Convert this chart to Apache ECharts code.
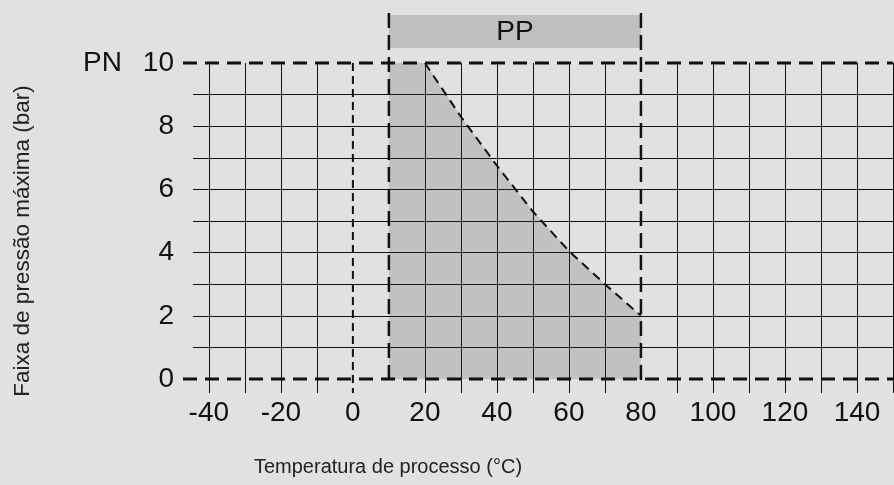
<!DOCTYPE html>
<html>
<head>
<meta charset="utf-8">
<script src="https://cdn.jsdelivr.net/npm/echarts@6/dist/echarts.min.js"></script>
<style>html,body{margin:0;padding:0;background:#e0e1e1;}#c{width:894px;height:485px;}</style>
</head>
<body>
<div id="c"></div>
<script>
// ---- data ----
const xGridTicks = [-40, -30, -20, -10, 20, 30, 40, 50, 60, 70, 90, 100, 110, 120, 130, 140, 150];
const xTickLabels = [-40, -20, 0, 20, 40, 60, 80, 100, 120, 140];
const yGridTicks = [1, 2, 3, 4, 5, 6, 7, 8, 9];
const yTickLabels = [0, 2, 4, 6, 8, 10];
const pressureLimits = [0, 10];      // lower limit and PN 10 upper limit
const zeroTemp = [0];
const ppTempRange = [10, 80];
const curveTemp = [20, 30, 40, 50, 60, 70, 80];
const curvePress = [10, 8.3, 6.75, 5.3, 4.05, 3.0, 2.0];
const materialName = 'PP';
const xTitle = 'Temperatura de processo (°C)';
const yTitle = 'Faixa de pressão máxima (bar)';

// ---- layout / style ----
const X_MIN = -44.4, X_MAX = 150, Y_MIN = 0, Y_MAX = 10;
const FONT = "'Liberation Sans', Arial, Helvetica, sans-serif";
const INK = '#111';
const SHADE = '#bdbfc1';

const curveData = curveTemp.map((t, i) => [t, curvePress[i]]);
const areaData = [[ppTempRange[0], pressureLimits[1]]].concat(curveData);

const chart = echarts.init(document.getElementById('c'), null, { renderer: 'canvas' });
chart.setOption({
  backgroundColor: '#e0e1e1',
  animation: false,
  grid: { left: 193, right: 1, top: 63, bottom: 106, containLabel: false },
  xAxis: {
    type: 'value', min: X_MIN, max: X_MAX,
    axisLine: { show: false },
    axisTick: { show: true, customValues: xGridTicks, length: 14, inside: false, lineStyle: { color: INK, width: 1 } },
    axisLabel: { customValues: xTickLabels, fontSize: 28, color: INK, fontFamily: FONT, margin: 20 },
    splitLine: { show: true, lineStyle: { color: INK, width: 1 } }
  },
  yAxis: {
    type: 'value', min: Y_MIN, max: Y_MAX,
    axisLine: { show: false },
    axisTick: { show: false, customValues: yGridTicks },
    axisLabel: {
      customValues: yTickLabels, fontSize: 28, color: INK, fontFamily: FONT, margin: 19,
      formatter: v => (v === pressureLimits[1] ? '{pn|PN}' + v : String(v)),
      rich: { pn: { fontSize: 28, color: INK, fontFamily: FONT, padding: [0, 21, 0, 0] } }
    },
    splitLine: { show: true, lineStyle: { color: INK, width: 1 } }
  },
  graphic: [
    { type: 'text', x: 23, y: 241, rotation: Math.PI / 2,
      style: { text: yTitle, fontSize: 22.5, fontFamily: FONT, fill: '#222', align: 'center', verticalAlign: 'middle' } },
    { type: 'text', x: 388, y: 467,
      style: { text: xTitle, fontSize: 20, fontFamily: FONT, fill: '#222', align: 'center', verticalAlign: 'middle' } }
  ],
  series: [
    { // shaded allowed region
      type: 'line', data: areaData, showSymbol: false, z: 1,
      lineStyle: { width: 0 },
      areaStyle: { color: 'rgb(58,64,72)', opacity: 0.2, origin: 'start' },
      silent: true
    },
    { // dashed limit curve
      type: 'line', data: curveData, showSymbol: false, z: 5,
      lineStyle: { color: INK, width: 2, type: [9, 6] },
      silent: true
    },
    { // PP band on top
      type: 'custom', z: 4, silent: true,
      data: [[ppTempRange[0], ppTempRange[1]]],
      renderItem: (params, api) => {
        const a = api.coord([api.value(0), Y_MAX]);
        const b = api.coord([api.value(1), Y_MAX]);
        const top = a[1] - 48, h = 33;
        return {
          type: 'group',
          children: [
            { type: 'rect', shape: { x: a[0], y: top, width: b[0] - a[0], height: h }, style: { fill: SHADE } },
            { type: 'text', x: (a[0] + b[0]) / 2, y: top + h / 2 + 1,
              style: { text: materialName, fontSize: 28, fontFamily: FONT, fill: INK, align: 'center', verticalAlign: 'middle' } }
          ]
        };
      }
    },
    { // horizontal thick dashed limits (0 and PN 10)
      type: 'custom', z: 6, silent: true,
      data: pressureLimits.map(v => [X_MAX, v]),
      renderItem: (params, api) => {
        const y = api.value(1);
        const l = api.coord([X_MIN, y]);
        const r = api.coord([X_MAX, y]);
        return { type: 'line', shape: { x1: l[0] - 10, y1: l[1], x2: r[0], y2: r[1] },
          style: { stroke: INK, lineWidth: 3, lineDash: [14, 8] } };
      }
    },
    { // vertical thick dashed PP range limits
      type: 'custom', z: 6, silent: true,
      data: ppTempRange.map(v => [v, Y_MIN]),
      renderItem: (params, api) => {
        const x = api.value(0);
        const t = api.coord([x, Y_MAX]);
        const b = api.coord([x, Y_MIN]);
        return { type: 'line', shape: { x1: t[0], y1: t[1] - 50, x2: b[0], y2: b[1] + 6 },
          style: { stroke: INK, lineWidth: 2.5, lineDash: [15, 7] } };
      }
    },
    { // thin dashed 0 °C line
      type: 'custom', z: 6, silent: true,
      data: zeroTemp.map(v => [v, Y_MIN]),
      renderItem: (params, api) => {
        const x = api.value(0);
        const t = api.coord([x, Y_MAX]);
        const b = api.coord([x, Y_MIN]);
        return { type: 'line', shape: { x1: t[0], y1: t[1], x2: b[0], y2: b[1] + 14 },
          style: { stroke: INK, lineWidth: 2, lineDash: [8, 5] } };
      }
    }
  ]
});
</script>
</body>
</html>
